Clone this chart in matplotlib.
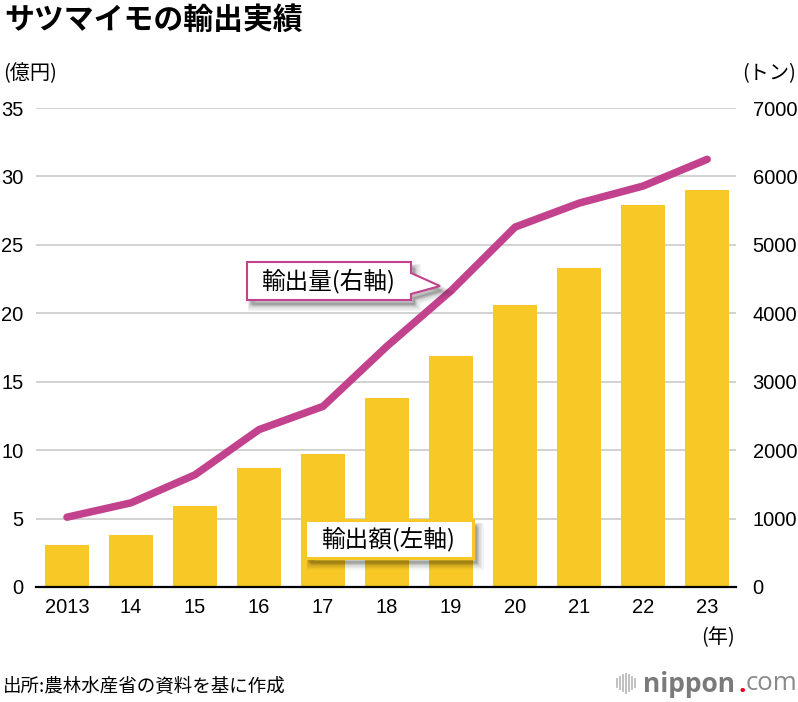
import numpy as np
import matplotlib.pyplot as plt
from matplotlib.patches import Polygon
from matplotlib.lines import Line2D
from matplotlib.transforms import Affine2D

# データ
years = ['2013', '14', '15', '16', '17', '18', '19', '20', '21', '22', '23']
value_oku = [3.1, 3.8, 5.9, 8.7, 9.7, 13.8, 16.9, 20.6, 23.3, 27.9, 29.0]   # 輸出額（億円）
volume_t = [1020, 1230, 1640, 2300, 2640, 3520, 4330, 5260, 5610, 5860, 6250]  # 輸出量（トン）
left_ticks = [0, 5, 10, 15, 20, 25, 30, 35]
right_ticks = [0, 1000, 2000, 3000, 4000, 5000, 6000, 7000]

BAR = '#F8C926'
LINE = '#C2428E'
GRID = '#CFCFCF'
JP = ['Noto Sans CJK JP', 'DejaVu Sans']
NUM = ['Liberation Sans', 'Noto Sans CJK JP']
LOGO = ['Open Sans', 'DejaVu Sans']

W, H = 798, 702
fig = plt.figure(figsize=(W / 100, H / 100), dpi=100)
# ピクセル座標（左上原点）でレイアウトするための変換
px = Affine2D().scale(1 / W, -1 / H).translate(0, 1) + fig.transFigure

ax = fig.add_axes([36 / W, 1 - 587 / H, 700 / W, 479 / H])
x = np.arange(len(years))
ax.bar(x, value_oku, width=0.69, color=BAR, zorder=2)
ax.set_xlim(-0.484, 10.45)
ax.set_ylim(0, 35)
ax.set_yticks(left_ticks)
ax.yaxis.grid(True, color=GRID, lw=1.3)
ax.set_axisbelow(True)
for s in ['top', 'left', 'right']:
    ax.spines[s].set_visible(False)
ax.spines['bottom'].set_linewidth(1.6)
ax.spines['bottom'].set_zorder(5)
ax.set_xticks(x)
ax.set_xticklabels(years)
ax.tick_params(axis='both', length=0, labelsize=14.5)
ax.tick_params(axis='y', pad=9)
ax.tick_params(axis='x', pad=8)
for t in ax.get_xticklabels() + ax.get_yticklabels():
    t.set_family(NUM)

ax2 = ax.twinx()
ax2.plot(x, volume_t, color=LINE, lw=5.4, solid_capstyle='round', solid_joinstyle='miter', zorder=3)
ax2.set_ylim(0, 7000)
ax2.set_yticks(right_ticks)
ax2.tick_params(axis='y', length=0, labelsize=14.5, pad=12)
for t in ax2.get_yticklabels():
    t.set_family(NUM)
for s in ax2.spines.values():
    s.set_visible(False)

# タイトル・単位
fig.text(4, 20, 'サツマイモの輸出実績', transform=px, family=JP, weight='bold',
         fontsize=21.5, va='center', ha='left')
fig.text(3, 74, '(億円)', transform=px, family=JP, fontsize=14.5, va='center', ha='left')
fig.text(796, 74, '(トン)', transform=px, family=JP, fontsize=14.5, va='center', ha='right')
fig.text(718, 638, '(年)', transform=px, family=JP, fontsize=14.5, va='center', ha='center')


# 吹き出し
def callout(x0, y0, x1, y1, edge, lw, label, tip=None):
    pts = [(x0, y0), (x1, y0)]
    if tip is not None:
        pts += [(x1, tip[2]), (tip[0], tip[1]), (x1, tip[3])]
    pts += [(x1, y1), (x0, y1)]
    pts = np.array(pts, float)
    for k in range(6):
        sh = Polygon(pts + [3 + k * 0.5, 4 + k * 0.5], closed=True, transform=px,
                     facecolor='#000000', edgecolor='#000000', lw=k * 1.3,
                     alpha=0.045, zorder=4)
        fig.patches.append(sh)
    fig.patches.append(Polygon(pts, closed=True, transform=px, facecolor='white',
                               edgecolor=edge, lw=lw, zorder=5, joinstyle='miter'))
    fig.text((x0 + x1) / 2 - 1, (y0 + y1) / 2, label, transform=px, family=JP,
             fontsize=17, ha='center', va='center', zorder=6)


callout(247, 262, 411, 300, LINE, 1.5, '輸出量(右軸)', tip=(440, 286, 273, 294))
callout(305, 520, 473, 558, BAR, 2.2, '輸出額(左軸)')

# 出所
fig.text(3, 687, '出所:農林水産省の資料を基に作成', transform=px, family=JP,
         fontsize=13.3, va='center', ha='left')

# ロゴ
for xi, hh in zip([617, 620, 623, 626, 629, 632, 635], [8, 12, 16, 19, 16, 12, 8]):
    fig.lines.append(Line2D([xi, xi], [683 - hh / 2, 683 + hh / 2], transform=px,
                            color='#BBBBBB', lw=1.3))
fig.text(643, 684, 'nippon', transform=px, family=LOGO,
         weight='bold', fontsize=19, color='#7A7A7A', va='center', ha='left')
fig.text(738, 684, '.', transform=px, family=LOGO,
         weight='bold', fontsize=19, color='#E60012', va='center', ha='left')
fig.text(746, 684, 'com', transform=px, family=LOGO,
         fontsize=18.5, color='#8A8A8A', va='center', ha='left')

fig.savefig('out.png', dpi=100)
